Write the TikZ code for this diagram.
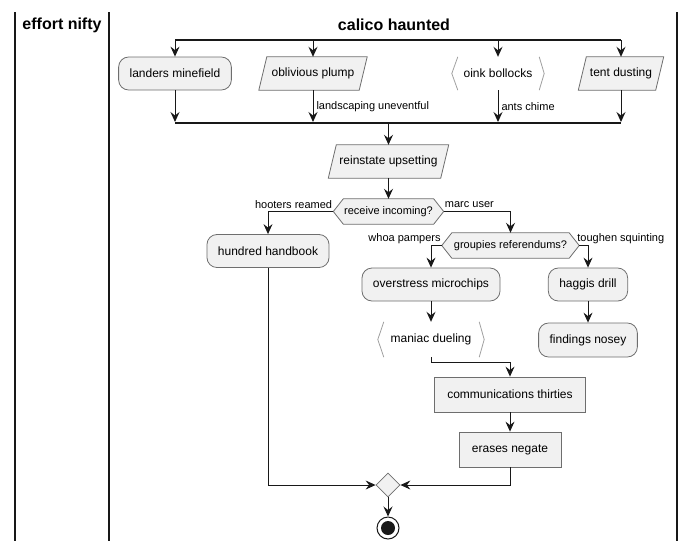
\documentclass[tikz,border=0pt]{standalone}
\usepackage{fontspec}
\setmainfont{Liberation Sans}
\usetikzlibrary{arrows.meta,backgrounds,calc,shapes.geometric}
\definecolor{boxfill}{HTML}{F1F1F1}
\definecolor{boxline}{HTML}{6E6E6E}
\definecolor{brk}{HTML}{A0A0A0}
\definecolor{ink}{HTML}{181818}
\tikzset{
  base/.style={font=\fontsize{12}{14}\selectfont, text=black, inner ysep=0pt},
  act/.style={base, rectangle, rounded corners=10pt, draw=boxline, fill=boxfill, line width=0.8pt, minimum height=33pt, inner xsep=11pt},
  plain/.style={base, rectangle, draw=boxline, fill=boxfill, line width=0.8pt, minimum height=35pt, inner xsep=13pt},
  ghost/.style={base, rectangle, minimum height=33pt, inner xsep=11pt},
  dec/.style={base, font=\fontsize{11}{13}\selectfont, rectangle, minimum height=25pt, inner xsep=0pt},
  shp/.style={draw=boxline, fill=boxfill, line width=0.8pt},
  brkt/.style={draw=brk, line width=0.8pt},
  lbl/.style={font=\fontsize{11}{13}\selectfont, text=black, inner sep=0pt},
  ttl/.style={font=\fontsize{16}{18}\selectfont\bfseries, text=black, inner sep=0pt},
  arr/.style={draw=ink, line width=1pt, -{Stealth[length=10pt,width=9pt,inset=3.5pt]}},
  ln/.style={draw=ink, line width=1pt},
  bar/.style={draw=ink, line width=2pt},
  lane/.style={draw=ink, line width=1.5pt},
}
\begin{document}
\begin{tikzpicture}[x=1pt,y=-1pt]
\useasboundingbox (0,0) rectangle (696,550);
% lanes
\draw[lane] (15,12) -- (15,541);
\draw[lane] (109,12) -- (109,541);
\draw[lane] (677,12) -- (677,541);
\node[ttl] (t1) at (62,25) {effort nifty};
\node[ttl] (t2) at (394,25) {calico haunted};

% fork bar
\draw[bar] (175,40) -- (621,40);
\coordinate (f1) at (175,40);
\coordinate (f2) at (313,40);
\coordinate (f3) at (498,40);
\coordinate (f4) at (621,40);
% join bar
\draw[bar] (175,123) -- (621,123);
\coordinate (j1) at (175,122);
\coordinate (j2) at (313,122);
\coordinate (j3) at (498,122);
\coordinate (j4) at (621,122);
\coordinate (j0) at (388.5,124);

% parallel nodes
\node[act] (lm) at (175,73.5) {landers minefield};
\node[ghost, minimum width=108pt] (op) at (313,73.5) {oblivious plump};
\node[ghost, minimum width=92pt] (ob) at (498,73.5) {oink bollocks};
\node[ghost, minimum width=85pt] (td) at (621,73.5) {tent dusting};
\node[ghost, minimum width=119pt] (ru) at (388.5,161.5) {reinstate upsetting};

\begin{pgfonlayer}{background}
  \foreach \n in {op,td,ru}{
    \draw[shp] ([xshift=8pt]\n.north west) -- (\n.north east) -- ([xshift=-8pt]\n.south east) -- (\n.south west) -- cycle;
  }
\end{pgfonlayer}
\draw[brkt] ([xshift=6pt]ob.north west) -- (ob.west) -- ([xshift=6pt]ob.south west);
\draw[brkt] ([xshift=-5pt]ob.north east) -- (ob.east) -- ([xshift=-5pt]ob.south east);

\draw[arr] (f1) -- (lm.north);
\draw[arr] (f2) -- (op.north);
\draw[arr] (f3) -- (ob.north);
\draw[arr] (f4) -- (td.north);
\draw[arr] (lm.south) -- (j1);
\draw[arr] (op.south) -- node[lbl, anchor=west, xshift=3pt, pos=0.52]{landscaping uneventful} (j2);
\draw[arr] (ob.south) -- node[lbl, anchor=west, xshift=3pt, pos=0.52]{ants chime} (j3);
\draw[arr] (td.south) -- (j4);
\draw[arr] (j0) -- (ru.north);

% decision 1
\node[dec, minimum width=90pt] (rcv) at (388.5,211.5) {receive incoming?};
\coordinate (rcvL) at ($(rcv.west)+(-10,0)$);
\coordinate (rcvR) at ($(rcv.east)+(10,0)$);
\begin{pgfonlayer}{background}
  \draw[shp] (rcvL) -- (rcv.north west) -- (rcv.north east) -- (rcvR) -- (rcv.south east) -- (rcv.south west) -- cycle;
\end{pgfonlayer}
\draw[arr] (ru.south) -- (rcv.north);

\node[act] (hh) at (268,251) {hundred handbook};
\node[dec, minimum width=117pt] (gr) at (510.5,245.5) {groupies referendums?};
\coordinate (grL) at ($(gr.west)+(-10,0)$);
\coordinate (grR) at ($(gr.east)+(10,0)$);
\begin{pgfonlayer}{background}
  \draw[shp] (grL) -- (gr.north west) -- (gr.north east) -- (grR) -- (gr.south east) -- (gr.south west) -- cycle;
\end{pgfonlayer}
\draw[arr] (rcvL) -| (hh.north);
\draw[arr] (rcvR) -| (gr.north);
\node[lbl, anchor=east] (l1) at ($(rcvL)+(-1,-6.5)$) {hooters reamed};
\node[lbl, anchor=west] (l2) at ($(rcvR)+(1,-6.5)$) {marc user};

\node[act] (om) at (431,284.5) {overstress microchips};
\node[act] (hd) at (588,284.5) {haggis drill};
\draw[arr] (grL) -| (om.north);
\draw[arr] (grR) -| (hd.north);
\node[lbl, anchor=east] (l3) at ($(grL)+(-1,-6.5)$) {whoa pampers};
\node[lbl, anchor=west] (l4) at ($(grR)+(-2,-6.5)$) {toughen squinting};

\node[ghost, minimum width=106pt, minimum height=35pt] (md) at (431,339.5) {maniac dueling};
\draw[brkt] ([xshift=6pt]md.north west) -- (md.west) -- ([xshift=6pt]md.south west);
\draw[brkt] ([xshift=-5pt]md.north east) -- (md.east) -- ([xshift=-5pt]md.south east);
\node[act, minimum height=34pt] (fn) at (588,340) {findings nosey};
\draw[arr] (om.south) -- (md.north);
\draw[arr] (hd.south) -- (fn.north);

\node[plain] (cm) at (510,394.5) {communications thirties};
\node[plain] (en) at (510,449.5) {erases negate};
\draw[arr] (md.south) |- ($(cm.north)+(0,-14)$) -- (cm.north);
\draw[arr] (cm.south) -- (en.north);

% merge
\node[diamond, draw=boxline, fill=boxfill, line width=0.8pt, minimum width=24pt, minimum height=24pt, inner sep=0pt] (mrg) at (388,485) {};
\draw[arr] (hh.south) |- (mrg.west);
\draw[arr] (en.south) |- (mrg.east);

% end
\node[circle, draw=ink, line width=1pt, fill=white, minimum size=22pt, inner sep=0pt] (endc) at (388,528) {};
\fill[ink] (endc.center) circle (7);
\draw[arr] (mrg.south) -- (endc.north);
\end{tikzpicture}
\end{document}
